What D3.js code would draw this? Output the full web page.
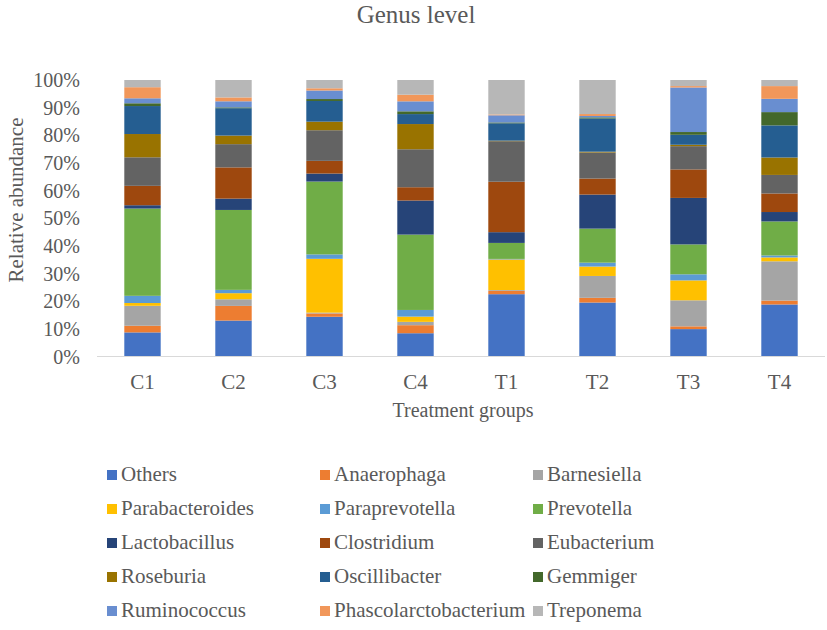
<!DOCTYPE html>
<html>
<head>
<meta charset="utf-8">
<script src="https://cdn.jsdelivr.net/npm/d3@7"></script>
<style>
  html, body { margin: 0; padding: 0; background: #fff; }
  svg { display: block; font-family: "Liberation Serif", "Times New Roman", serif; }
</style>
</head>
<body>
<svg id="chart" width="827" height="630"></svg>
<script>
// ---- Data (relative abundance, %) ----
const groups = ["C1", "C2", "C3", "C4", "T1", "T2", "T3", "T4"];
const genera = ["Others", "Anaerophaga", "Barnesiella", "Parabacteroides", "Paraprevotella",
  "Prevotella", "Lactobacillus", "Clostridium", "Eubacterium", "Roseburia",
  "Oscillibacter", "Gemmiger", "Ruminococcus", "Phascolarctobacterium", "Treponema"];
const colors = ["#4472C4", "#ED7D31", "#A5A5A5", "#FFC000", "#5B9BD5",
  "#70AD47", "#264478", "#9E480E", "#636363", "#997300",
  "#255E91", "#43682B", "#698ED0", "#F1975A", "#B7B7B7"];

const others          = [8.7, 13.0, 14.4,  8.4, 22.6, 19.5,  9.9, 18.8];
const anaerophaga     = [2.4,  5.3,  1.2,  2.9,  1.2,  1.7,  1.0,  1.4];
const barnesiella     = [7.2,  2.4,  0.3,  1.2,  0.3,  7.9,  9.4, 14.2];
const parabacteroides = [1.0,  2.2, 19.5,  1.9, 11.1,  3.4,  7.2,  1.4];
const paraprevotella  = [2.6,  1.2,  1.6,  2.4,  0.2,  1.4,  2.2,  0.7];
const prevotella      = [31.5, 28.9, 26.4, 27.2,  5.8, 12.3, 10.8, 12.3];
const lactobacillus   = [1.2,  4.1,  2.9, 12.3,  3.9, 12.3, 16.8,  3.4];
const clostridium     = [7.0, 11.3,  4.6,  4.8, 18.3,  5.8, 10.3,  6.7];
const eubacterium     = [10.3, 8.4, 11.1, 13.7, 14.7,  9.4,  8.4,  6.7];
const roseburia       = [8.4,  3.1,  3.1,  9.1,  0.2,  0.3,  0.5,  6.3];
const oscillibacter   = [10.1, 9.9,  7.5,  3.6,  6.3, 12.0,  3.6, 11.6];
const gemmiger        = [1.0,  0.3,  0.7,  1.0,  0.3,  0.4,  1.0,  4.8];
const ruminococcus    = [1.8,  2.2,  3.1,  3.6,  2.6,  0.5, 16.1,  4.8];
const phascolarcto    = [4.0,  1.4,  0.8,  2.4,  0.3,  0.7,  0.5,  4.6];
const treponema       = [2.6,  6.3,  3.0,  5.3, 12.5, 12.3,  2.2,  2.2];

const seriesValues = [others, anaerophaga, barnesiella, parabacteroides, paraprevotella,
  prevotella, lactobacillus, clostridium, eubacterium, roseburia,
  oscillibacter, gemmiger, ruminococcus, phascolarcto, treponema];

const yTicks = [0, 0.1, 0.2, 0.3, 0.4, 0.5, 0.6, 0.7, 0.8, 0.9, 1.0];

// ---- Build table ----
const table = groups.map((g, i) => {
  const row = { group: g };
  genera.forEach((name, k) => { row[name] = seriesValues[k][i]; });
  return row;
});

const svg = d3.select("#chart");
const textColor = "#595959";

const x = d3.scaleBand().domain(groups).range([97, 825]).paddingInner(0.6).paddingOuter(0.3);
const y = d3.scaleLinear().domain([0, 1]).range([356.5, 80]);
const color = d3.scaleOrdinal().domain(genera).range(colors);

const stack = d3.stack().keys(genera).offset(d3.stackOffsetExpand);
const layers = stack(table);

// Bars
svg.append("g").selectAll("g")
  .data(layers).join("g")
  .attr("fill", d => color(d.key))
  .selectAll("rect")
  .data(d => d).join("rect")
  .attr("x", d => x(d.data.group))
  .attr("width", x.bandwidth())
  .attr("y", d => y(d[1]))
  .attr("height", d => Math.max(0, y(d[0]) - y(d[1])));

// Y axis (labels only)
const yAxis = d3.axisLeft(y).tickValues(yTicks).tickFormat(d3.format(".0%")).tickSize(0).tickPadding(0);
const yg = svg.append("g").attr("transform", "translate(80,0)").call(yAxis);
yg.select(".domain").remove();
yg.selectAll("text").attr("fill", textColor).attr("font-size", 20)
  .attr("font-family", "Liberation Serif, Times New Roman, serif").attr("dy", "0.33em");

// X axis
const xAxis = d3.axisBottom(x).tickSize(0).tickPadding(0);
const xg = svg.append("g").attr("transform", "translate(0,356.5)").call(xAxis);
xg.select(".domain").attr("stroke", "#D9D9D9").attr("stroke-width", 1)
  .attr("d", "M97,0H825");
xg.selectAll("text").attr("fill", textColor).attr("font-size", 21)
  .attr("font-family", "Liberation Serif, Times New Roman, serif").attr("y", 32).attr("dy", 0);

// Title
svg.append("text").attr("x", 416).attr("y", 23).attr("text-anchor", "middle")
  .attr("font-size", 25).attr("fill", textColor).text("Genus level");

// Axis titles
svg.append("text").attr("x", 463).attr("y", 417).attr("text-anchor", "middle")
  .attr("font-size", 20).attr("fill", textColor).text("Treatment groups");
svg.append("text").attr("transform", "translate(23,200) rotate(-90)").attr("text-anchor", "middle")
  .attr("font-size", 21).attr("fill", textColor).text("Relative abundance");

// Legend
const legendCols = [107, 320, 533];
const legendRows = [481, 515, 549, 583, 617];
const lg = svg.append("g");
genera.forEach((name, i) => {
  const cx = legendCols[i % 3];
  const cy = legendRows[Math.floor(i / 3)];
  lg.append("rect").attr("x", cx).attr("y", cy - 11).attr("width", 10).attr("height", 10)
    .attr("fill", color(name));
  lg.append("text").attr("x", cx + 14).attr("y", cy).attr("font-size", 21)
    .attr("fill", textColor).text(name);
});
</script>
</body>
</html>
